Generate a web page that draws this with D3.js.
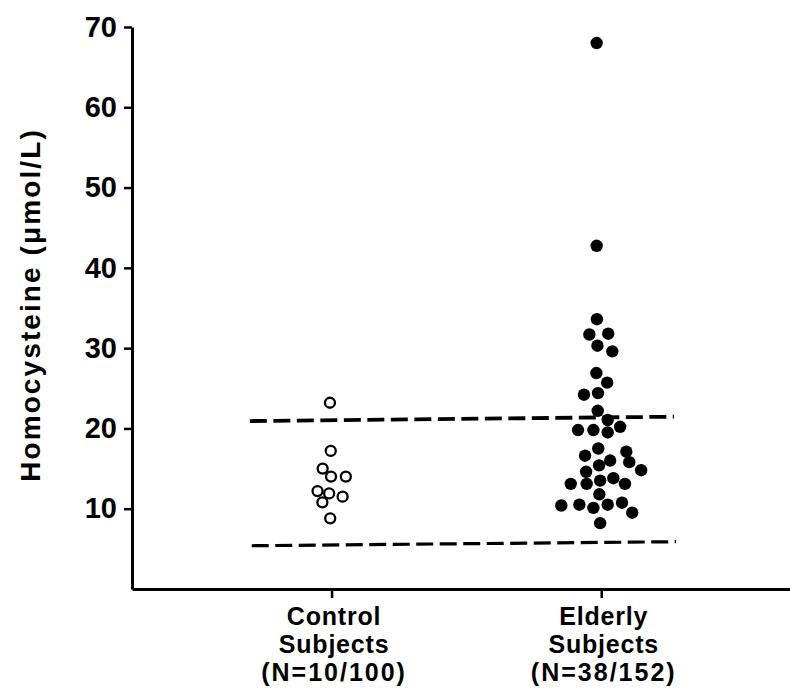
<!DOCTYPE html>
<html>
<head>
<meta charset="utf-8">
<script src="https://cdn.jsdelivr.net/npm/d3@7"></script>
<style>
  body { margin: 0; background: #fff; }
  svg { display: block; font-family: "Liberation Sans", Arial, Helvetica, sans-serif; }
</style>
</head>
<body>
<div id="chart"></div>
<script>
// Homocysteine scatter: control vs elderly subjects

// categories (x position in category units) and their labels
const categories = [1, 2];
const categoryLabels = [
  ['Control', 'Subjects', '(N=10/100)'],
  ['Elderly', 'Subjects', '(N=38/152)']
];

const yTicks = [10, 20, 30, 40, 50, 60, 70];

// control subjects (open circles)
const controlValues = [23.2, 17.2, 15.0, 14.0, 14.0, 12.2, 11.9, 11.5, 10.8, 8.8];
const controlJitter = [-0.006, -0.003, -0.033, -0.002, 0.053, -0.052, -0.009, 0.041, -0.034, -0.005];

// elderly subjects (filled circles)
const elderlyValues = [
  33.6, 31.7, 31.8, 30.3, 29.6, 26.9, 25.7, 24.4, 24.2, 22.2,
  21.05, 19.8, 19.8, 19.5, 20.2, 17.5, 17.1, 16.6, 16.0, 15.4,
  15.8, 14.8, 14.6, 13.1, 13.1, 13.5, 13.8, 13.1, 11.8, 10.4,
  10.5, 10.1, 10.5, 10.75, 9.5, 8.2, 68.0, 42.75
];
const elderlyJitter = [
  -0.016, -0.044, 0.026, -0.014, 0.041, -0.018, 0.022, -0.012, -0.064, -0.013,
  0.024, -0.086, -0.029, 0.024, 0.070, -0.011, 0.093, -0.060, 0.033, -0.008,
  0.104, 0.148, -0.056, -0.113, -0.054, -0.004, 0.045, 0.088, -0.007, -0.148,
  -0.081, -0.029, 0.024, 0.077, 0.115, -0.004, -0.017, -0.017
];

// dashed reference lines (start/end in category units and µmol/L)
const refLines = [
  { x: [0.697, 2.27], v: [20.92, 21.46] },
  { x: [0.704, 2.277], v: [5.39, 5.89] }
];

function render() {
  const W = 790, H = 691;
  const margin = { top: 27, right: 0, bottom: 102, left: 132 };

  const svg = d3.select('#chart')
    .append('svg')
    .attr('width', W)
    .attr('height', H);

  // Escalas
  const x = d3.scaleLinear()
    .domain([0.26, 2.7])
    .range([margin.left, W - margin.right]);

  const y = d3.scaleLinear()
    .domain([0, 70])
    .range([H - margin.bottom, margin.top]);

  // Eixo Y
  const yAxis = svg.append('g')
    .attr('transform', `translate(${margin.left},0)`)
    .call(d3.axisLeft(y).tickValues(yTicks).tickSize(8).tickSizeOuter(0).tickPadding(7));

  yAxis.select('.domain').attr('stroke-width', 3);
  yAxis.selectAll('.tick line').attr('stroke-width', 2.5);
  yAxis.selectAll('.tick text')
    .attr('fill', '#000')
    .style('font-size', '29px')
    .style('font-weight', 'bold');

  // Eixo X
  const xAxis = svg.append('g')
    .attr('transform', `translate(0,${H - margin.bottom})`)
    .call(d3.axisBottom(x).tickValues(categories).tickSize(9).tickSizeOuter(0).tickFormat(''));

  xAxis.select('.domain').attr('stroke-width', 3);
  xAxis.selectAll('.tick line').attr('stroke-width', 2.5);

  xAxis.selectAll('.tick').each(function(d, i) {
    const t = d3.select(this).append('text')
      .attr('fill', '#000')
      .attr('text-anchor', 'middle')
      .style('font-size', '25px')
      .style('font-weight', 'bold');
    categoryLabels[i].forEach((line, j) => {
      t.append('tspan')
        .attr('x', 2)
        .attr('y', 36 + j * 28)
        .style('letter-spacing', j === 2 ? '2px' : '0.8px')
        .text(line);
    });
  });

  // Título do eixo Y
  svg.append('text')
    .attr('transform', `translate(40,${(127 + 483) / 2}) rotate(-90)`)
    .attr('text-anchor', 'middle')
    .attr('fill', '#000')
    .style('font-size', '28px')
    .style('font-weight', 'bold')
    .style('letter-spacing', '2.1px')
    .text('Homocysteine (μmol/L)');

  // Linhas de referência tracejadas
  svg.selectAll('.ref-line')
    .data(refLines)
    .enter()
    .append('line')
    .attr('class', 'ref-line')
    .attr('x1', d => x(d.x[0]))
    .attr('x2', d => x(d.x[1]))
    .attr('y1', d => y(d.v[0]))
    .attr('y2', d => y(d.v[1]))
    .attr('stroke', '#000')
    .attr('stroke-width', (d, i) => i === 0 ? 3.8 : 3.2)
    .attr('stroke-dasharray', '17,6.5');

  // Pontos - controle
  svg.selectAll('.control-dot')
    .data(controlValues.map((v, i) => ({ v, j: controlJitter[i] })))
    .enter()
    .append('circle')
    .attr('class', 'control-dot')
    .attr('cx', d => x(categories[0] + d.j))
    .attr('cy', d => y(d.v))
    .attr('r', 5)
    .attr('fill', '#fff')
    .attr('stroke', '#000')
    .attr('stroke-width', 2.3);

  // Pontos - idosos
  svg.selectAll('.elderly-dot')
    .data(elderlyValues.map((v, i) => ({ v, j: elderlyJitter[i] })))
    .enter()
    .append('circle')
    .attr('class', 'elderly-dot')
    .attr('cx', d => x(categories[1] + d.j))
    .attr('cy', d => y(d.v))
    .attr('r', 6.2)
    .attr('fill', '#000');
}

render();
</script>
</body>
</html>
